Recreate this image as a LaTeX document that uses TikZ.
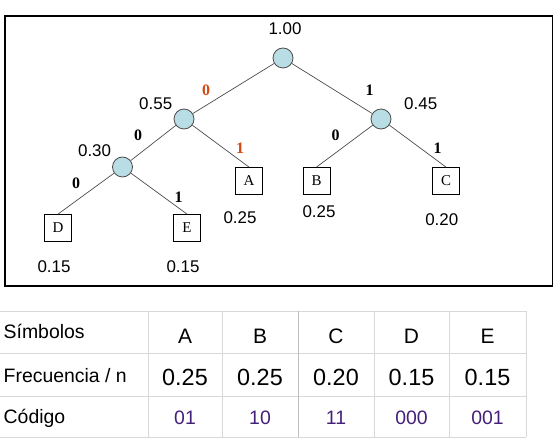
\documentclass[tikz,border=0pt]{standalone}
\usepackage{fontspec}
\setmainfont{Liberation Sans}
\newfontfamily\boxfont{Liberation Serif}
\definecolor{treefill}{RGB}{185,221,228}
\definecolor{bitred}{RGB}{212,72,18}
\definecolor{codepurple}{RGB}{68,32,120}
\definecolor{gridgray}{RGB}{216,216,216}
\definecolor{griddark}{RGB}{190,190,190}
\begin{document}
\begin{tikzpicture}[x=1bp,y=-1bp,
  inner/.style={circle,draw=black!70,fill=treefill,minimum size=20bp,inner sep=0,line width=0.8bp},
  leaf/.style={draw=black,line width=0.8bp,minimum width=27bp,minimum height=27bp,inner sep=0,
    font=\boxfont\fontsize{15}{15}\selectfont},
  prob/.style={inner sep=0,font=\fontsize{17}{17}\selectfont},
  bit/.style={inner sep=0,font=\boxfont\bfseries\fontsize{16}{16}\selectfont},
  redbit/.style={bit,text=bitred},
  branch/.style={draw=black!70,line width=0.7bp},
  rowhead/.style={anchor=base west,inner sep=0,font=\fontsize{19.5}{20}\selectfont},
  symcell/.style={anchor=base,inner sep=0,font=\fontsize{21}{21}\selectfont},
  valcell/.style={anchor=base,inner sep=0,font=\fontsize{23.5}{24}\selectfont},
  codecell/.style={anchor=base,inner sep=0,text=codepurple,font=\fontsize{19.5}{20}\selectfont},
  grid/.style={draw=gridgray,line width=0.8bp}
]
\useasboundingbox (0,0) rectangle (560,444);

% frame around the tree
\draw[line width=1.1bp] (5,16) rectangle (552.5,286);

% internal nodes
\node[inner] (root) at (283,58) {};
\node[inner] (n55) at (184,119) {};
\node[inner] (n45) at (381,119) {};
\node[inner] (n30) at (122.5,167) {};

% leaves
\node[leaf] (A) at (249,181) {A};
\node[leaf] (B) at (316.5,181) {B};
\node[leaf] (C) at (446,181) {C};
\node[leaf] (D) at (58,228) {D};
\node[leaf] (E) at (187,228) {E};

% branches
\draw[branch] (root) -- (n55);
\draw[branch] (root) -- (n45);
\draw[branch] (n55) -- (n30);
\draw[branch] (n55) -- (A.north);
\draw[branch] (n45) -- (B.north);
\draw[branch] (n45) -- (C.north);
\draw[branch] (n30) -- (D.north);
\draw[branch] (n30) -- (E.north);

% probabilities
\node[prob] (proot) at (285,29) {1.00};
\node[prob] (p55) at (155.7,104) {0.55};
\node[prob] (p45) at (420.7,104) {0.45};
\node[prob] (p30) at (94.6,151) {0.30};
\node[prob] (pA) at (240,218) {0.25};
\node[prob] (pB) at (319,212) {0.25};
\node[prob] (pC) at (441.8,220) {0.20};
\node[prob] (pD) at (54,267) {0.15};
\node[prob] (pE) at (183,267) {0.15};

% branch bits
\node[redbit] (b1) at (206,90) {0};
\node[bit] (b2) at (369.6,90) {1};
\node[bit] (b3) at (138,135) {0};
\node[redbit] (b4) at (240,148) {1};
\node[bit] (b5) at (335.7,135) {0};
\node[bit] (b6) at (437.5,148) {1};
\node[bit] (b7) at (76,183) {0};
\node[bit] (b8) at (178.6,197) {1};

% table grid
\foreach \yy in {311,353,396,437} \draw[grid] (0,\yy) -- (526,\yy);
\foreach \xx in {148,222.5,374,449,526} \draw[grid] (\xx,311) -- (\xx,437);
\draw[grid,draw=griddark] (298,311) -- (298,437);

% row headings
\node[rowhead] (h1) at (3.5,338) {Símbolos};
\node[rowhead] (h2) at (3.5,382) {Frecuencia / n};
\node[rowhead] (h3) at (3.5,423) {Código};

% table body
\foreach \cx/\s/\v/\c [count=\i] in {185/A/0.25/01, 260/B/0.25/10, 336/C/0.20/11, 411.5/D/0.15/000, 487.5/E/0.15/001} {
  \node[symcell] (s\i) at (\cx,343) {\s};
  \node[valcell] (v\i) at (\cx,385) {\v};
  \node[codecell] (c\i) at (\cx,424) {\c};
}
\end{tikzpicture}
\end{document}
